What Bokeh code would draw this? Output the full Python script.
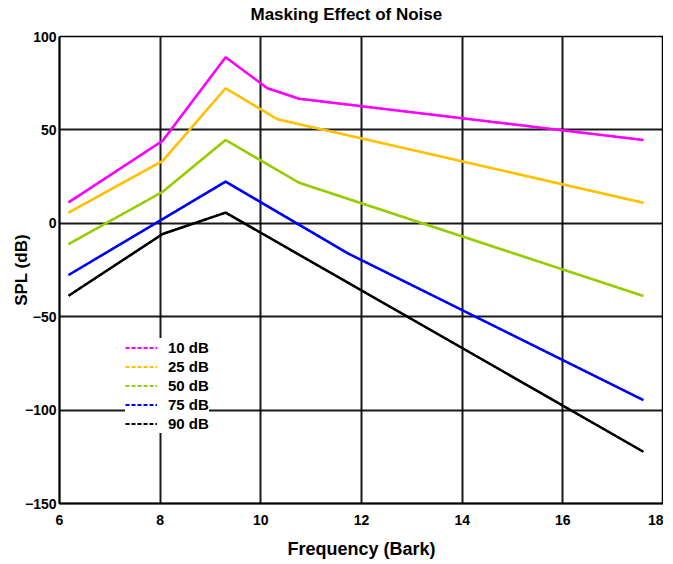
from bokeh.plotting import figure
from bokeh.models import Legend, LegendItem, FixedTicker, Range1d, LinearAxis
from bokeh.embed import file_html
from bokeh.resources import INLINE

# ---- data ----
bark_10 = [6.18, 8.05, 9.30, 10.13, 10.76, 17.60]
spl_10 = [11.2, 44.2, 88.9, 72.3, 66.7, 44.6]

bark_25 = [6.18, 8.05, 9.30, 10.33, 17.60]
spl_25 = [5.7, 33.4, 72.3, 55.7, 11.0]

bark_50 = [6.18, 8.05, 9.30, 10.76, 17.60]
spl_50 = [-11.1, 16.9, 44.6, 21.7, -38.9]

bark_75 = [6.18, 9.30, 11.73, 17.60]
spl_75 = [-27.7, 22.3, -16.1, -94.6]

bark_90 = [6.18, 8.05, 9.30, 17.60]
spl_90 = [-38.8, -5.7, 5.7, -122.3]

series_labels = ["10 dB", "25 dB", "50 dB", "75 dB", "90 dB"]
series_colors = ["#ff00ff", "#ffc000", "#99cc00", "#0000ff", "#000000"]

x_ticks = [6, 8, 10, 12, 14, 16, 18]
y_ticks = [-150, -100, -50, 0, 50, 100]

FONT = "Liberation Sans"

p = figure(width=663, height=561, output_backend="svg", toolbar_location=None,
           x_range=Range1d(6, 18), y_range=Range1d(-150, 100),
           min_border_left=59, min_border_right=0, min_border_top=36,
           min_border_bottom=48)

xa = p.below[0]
ya = p.left[0]

# blank spacer axis between the frame and the title (white tick, no label)
spacer = LinearAxis(ticker=FixedTicker(ticks=[x_ticks[0]]), axis_line_color=None,
                    major_tick_line_color="white", minor_tick_line_color=None,
                    major_tick_out=13, major_tick_in=0, minor_tick_out=0,
                    minor_tick_in=0, major_label_text_color=None,
                    major_label_text_font_size="1px", major_label_standoff=0)
p.add_layout(spacer, "above")

p.title.text = "Masking Effect of Noise"
p.title.align = "left"
p.title.offset = 191
p.title.standoff = 0
p.title.text_font = FONT
p.title.text_font_size = "17px"
p.title.text_font_style = "bold"
p.title.text_color = "black"

xa.axis_label = "Frequency (Bark)"
ya.axis_label = "SPL (dB)"
for ax in (xa, ya):
    ax.axis_label_text_font = FONT
    ax.axis_label_text_font_style = "bold"
    ax.axis_label_text_color = "black"
    ax.major_label_text_font = FONT
    ax.major_label_text_font_size = "14px"
    ax.major_label_text_font_style = "bold"
    ax.major_label_text_color = "black"
    ax.major_tick_line_color = None
    ax.minor_tick_line_color = None
    ax.axis_line_color = "black"
    ax.axis_line_width = 2
xa.axis_label_text_font_size = "18px"
ya.axis_label_text_font_size = "17px"

xa.ticker = FixedTicker(ticks=x_ticks)
ya.ticker = FixedTicker(ticks=y_ticks)
xa.major_label_standoff = 5
xa.axis_label_standoff = 11
ya.major_label_standoff = -3
ya.axis_label_standoff = -9

p.xgrid.grid_line_color = "black"
p.ygrid.grid_line_color = "black"
p.xgrid.grid_line_width = 2
p.ygrid.grid_line_width = 2
p.xgrid.grid_line_alpha = 0.9
p.ygrid.grid_line_alpha = 0.9
p.xgrid.ticker = FixedTicker(ticks=x_ticks)
p.ygrid.ticker = FixedTicker(ticks=y_ticks)

p.outline_line_color = "black"
p.outline_line_width = 1.5
p.background_fill_color = "white"
p.border_fill_color = "white"

xs = [bark_10, bark_25, bark_50, bark_75, bark_90]
ys = [spl_10, spl_25, spl_50, spl_75, spl_90]

items = []
for x, y, lab, col in zip(xs, ys, series_labels, series_colors):
    # dashed copy (hidden under the solid line) used as the legend sample
    r = p.line(x, y, line_color=col, line_width=2, line_dash="4 2")
    p.line(x, y, line_color=col, line_width=2.5)
    items.append(LegendItem(label=lab, renderers=[r]))

legend = Legend(items=items, location=(66, 70))
legend.border_line_color = None
legend.background_fill_color = "white"
legend.background_fill_alpha = 1.0
legend.label_text_font = FONT
legend.label_text_font_size = "15px"
legend.label_text_font_style = "bold"
legend.label_text_color = "black"
legend.glyph_width = 32
legend.glyph_height = 19
legend.label_height = 19
legend.label_standoff = 11
legend.spacing = 0
legend.padding = 16
legend.margin = 0
p.add_layout(legend, "center")

open("out.html", "w").write(file_html(p, INLINE))
